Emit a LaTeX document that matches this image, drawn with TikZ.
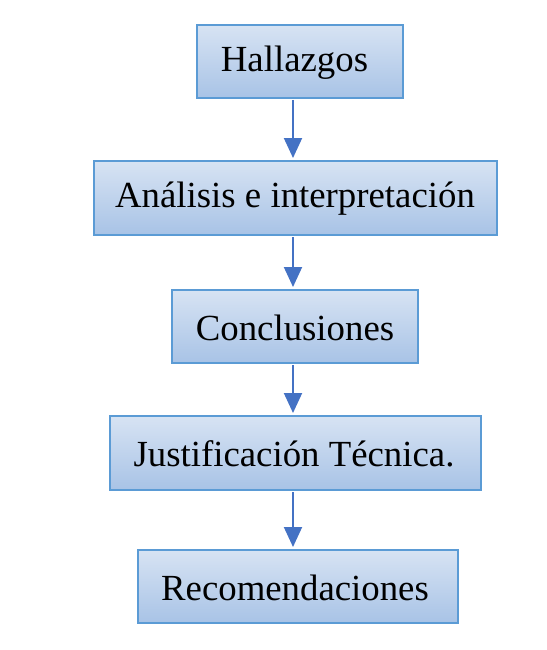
\documentclass[tikz,border=0pt]{standalone}
\usepackage{fontspec}
\setmainfont{Liberation Serif}
\usetikzlibrary{arrows.meta}
\definecolor{bordc}{HTML}{5B9BD5}
\definecolor{topc}{HTML}{D7E3F3}
\definecolor{botc}{HTML}{A8C3E6}
\definecolor{arrc}{HTML}{4472C4}
\tikzset{
  boxstyle/.style={draw=bordc, line width=1.5pt, top color=topc, bottom color=botc, inner sep=0pt, outer sep=0pt},
  lbl/.style={inner sep=0pt, font=\fontsize{36.8}{40}\selectfont, text=black},
  arr/.style={draw=arrc, line width=2pt, -{Triangle[width=18pt,length=20pt]}, shorten >=3pt, shorten <=2pt}
}
\begin{document}
\begin{tikzpicture}[x=1pt,y=-1pt]
\useasboundingbox (0,0) rectangle (546,650);
\node[boxstyle, minimum width=206pt, minimum height=73pt] (b1) at (300,61.5) {};
\node[boxstyle, minimum width=403pt, minimum height=74pt] (b2) at (295.5,198) {};
\node[boxstyle, minimum width=246pt, minimum height=73pt] (b3) at (295,326.5) {};
\node[boxstyle, minimum width=371pt, minimum height=74pt] (b4) at (295.5,453) {};
\node[boxstyle, minimum width=320pt, minimum height=73pt] (b5) at (298,586.5) {};
\node[lbl] (t1) at (294.5,62.5) {Hallazgos};
\node[lbl] (t2) at (295,199) {Análisis e interpretación};
\node[lbl] (t3) at (295,327.5) {Conclusiones};
\node[lbl] (t4) at (294,454) {Justificación Técnica.};
\node[lbl] (t5) at (295,587.5) {Recomendaciones};
\draw[arr] (b1.south -| 293,0) -- (b2.north -| 293,0);
\draw[arr] (b2.south -| 293,0) -- (b3.north -| 293,0);
\draw[arr] (b3.south -| 293,0) -- (b4.north -| 293,0);
\draw[arr] (b4.south -| 293,0) -- (b5.north -| 293,0);
\end{tikzpicture}
\end{document}
